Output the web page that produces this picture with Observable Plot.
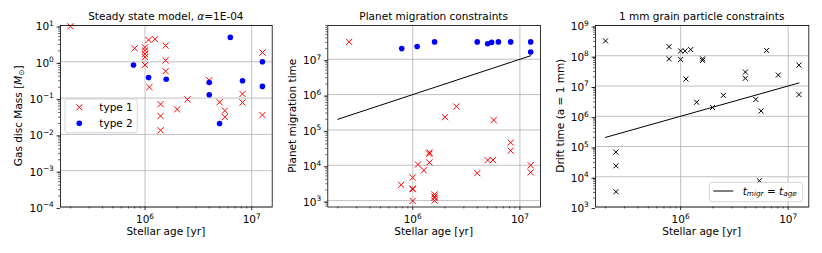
<!DOCTYPE html>
<html><head><meta charset="utf-8">
<script src="https://cdn.jsdelivr.net/npm/d3@7"></script>
<script src="https://cdn.jsdelivr.net/npm/@observablehq/plot@0.6"></script>
<style>
body{margin:0;background:#fff;font-family:"DejaVu Sans",sans-serif;}
#wrap{position:relative;width:822px;height:253px;overflow:hidden;background:#fff}
#wrap > svg{position:absolute;top:0}
</style></head><body><div id="wrap"></div>
<script>
// ---------- Panel 1: Steady state model, gas disc mass [M_sun] ----------
const p1Type1Age  = [2e5, 8e5, 1e6, 1e6, 1e6, 1e6, 1e6, 1.08e6, 1.24e6, 1.1e6, 1.56e6, 1.56e6, 1.56e6,
                     1.4e6, 1.4e6, 1.4e6, 2e6, 2.5e6, 4e6, 5e6, 5.6e6, 5.6e6, 8.2e6, 8.2e6, 1.26e7, 1.26e7];
const p1Type1Mass = [9.5, 2.35, 2.5, 2.05, 1.65, 1.35, 0.82, 4.0, 4.2, 0.2, 2.8, 1.1, 0.55,
                     0.068, 0.032, 0.013, 0.049, 0.092, 0.31, 0.077, 0.045, 0.030, 0.13, 0.076, 1.8, 0.034];
const p1Type2Age  = [7.8e5, 1.08e6, 1.58e6, 4e6, 4e6, 5e6, 6.3e6, 8.2e6, 1.26e7, 1.26e7];
const p1Type2Mass = [0.82, 0.37, 0.33, 0.27, 0.124, 0.02, 4.7, 0.30, 1.0, 0.21];

// ---------- Panel 2: Planet migration time ----------
const p2Type1Age  = [2.55e5, 2.0e6, 2.55e6, 5.7e6, 8.2e6, 8.2e6, 1.43e6, 1.43e6, 1.43e6, 1.12e6, 1.27e6,
                     7.8e5, 1e6, 1e6, 1e6, 1e6, 1.6e6, 1.6e6, 1.6e6, 1.6e6, 4e6, 5e6, 5.6e6, 1.26e7, 1.26e7];
const p2Type1Time = [3.1e7, 2.3e5, 4.6e5, 1.9e5, 4.4e4, 2.6e4, 2.3e4, 2.1e4, 1.2e4, 1.05e4, 7.2e3,
                     2.8e3, 4.5e3, 2.2e3, 2.1e3, 980, 1.5e3, 1.3e3, 1.2e3, 1.0e3, 6e3, 1.4e4, 1.4e4, 1.0e4, 6.3e3];
const p2Type2Age  = [7.9e5, 1.1e6, 1.6e6, 4e6, 5e6, 5.45e6, 6.3e6, 8.2e6, 1.26e7, 1.26e7];
const p2Type2Time = [2.0e7, 2.3e7, 3.1e7, 3.1e7, 2.75e7, 3.0e7, 3.1e7, 3.1e7, 3.1e7, 1.6e7];

// ---------- Panel 3: 1 mm grain drift time ----------
const p3Age   = [2e5, 2.5e5, 2.5e5, 2.5e5, 7.8e5, 7.8e5, 1e6, 1.1e6, 1.24e6, 1e6, 1.6e6, 1.6e6, 1.12e6,
                 1.41e6, 1.98e6, 2.5e6, 4e6, 4e6, 6.3e6, 8.1e6, 5e6, 5.6e6, 5.4e6, 1.26e7, 1.26e7];
const p3Drift = [3.1e8, 6.5e4, 2.3e4, 3.2e3, 2.0e8, 7.9e7, 1.45e8, 1.45e8, 1.6e8, 7.5e7, 7.9e7, 7.0e7, 1.7e7,
                 2.9e6, 1.95e6, 4.9e6, 2.9e7, 1.8e7, 1.5e8, 2.3e7, 3.6e6, 1.5e6, 7.4e3, 4.9e7, 5.2e6];

// t_migr = t_age reference line spans the range of stellar ages
const lineAges = d3.extent(p1Type1Age.concat(p1Type2Age));

// tick labels
const xTicks   = [1e6, 1e7];
const p1YTicks = [1e-4, 1e-3, 1e-2, 1e-1, 1e0, 1e1];
const p2YTicks = [1e3, 1e4, 1e5, 1e6, 1e7];
const p3YTicks = [1e3, 1e4, 1e5, 1e6, 1e7, 1e8, 1e9];

const titles = ["Steady state model, α=1E-04", "Planet migration constraints", "1 mm grain particle constraints"];
const xLabel = "Stellar age [yr]";
const yLabels = ["Gas disc Mass [M⊙]", "Planet migration time", "Drift time (a = 1 mm)"];
const legend1 = ["type 1", "type 2"];
const legend3 = "t_migr = t_age";

// ---------- helpers ----------
const expLabel = d => "10^" + String(Math.round(Math.log10(d))).replace("-", "−");
function minorTicks(domain) {
  const out = [];
  const lo = Math.floor(Math.log10(domain[0])), hi = Math.ceil(Math.log10(domain[1]));
  for (let e = lo; e <= hi; e++) for (let m = 2; m <= 9; m++) {
    const v = m * Math.pow(10, e);
    if (v >= domain[0] && v <= domain[1]) out.push(v);
  }
  return out;
}
const xDomain = [Math.pow(10, 5.208), Math.pow(10, 7.192)];
const gridStyle = {stroke: "#b0b0b0", strokeOpacity: 1, strokeWidth: 0.8};

// turn "10^6" tick text into 10 + superscript tspan
function superscriptTicks(svg) {
  svg.querySelectorAll("text").forEach(t => {
    const s = t.textContent;
    if (!s.startsWith("10^")) return;
    t.textContent = "";
    const base = document.createElementNS("http://www.w3.org/2000/svg", "tspan");
    base.textContent = "10";
    const ex = document.createElementNS("http://www.w3.org/2000/svg", "tspan");
    ex.textContent = s.slice(3);
    ex.setAttribute("font-size", "7.4");
    ex.setAttribute("dy", "-4.6");
    t.appendChild(base); t.appendChild(ex);
  });
}

function makePanel({left, width, ml, mr, yDomain, yTicks, marks}) {
  const svg = Plot.plot({
    width, height: 253, marginLeft: ml, marginRight: mr, marginTop: 25, marginBottom: 46.5,
    style: {fontFamily: "DejaVu Sans", fontSize: "10.5px", background: "transparent", color: "black", overflow: "visible"},
    x: {type: "log", domain: xDomain},
    y: {type: "log", domain: yDomain},
    marks: [
      Plot.gridX(xTicks, gridStyle),
      Plot.gridY(yTicks, gridStyle),
      ...marks,
      Plot.frame({stroke: "black", strokeWidth: 0.8}),
      Plot.axisX(xTicks, {tickSize: 3.5, tickPadding: 5.5, tickFormat: expLabel, label: null, strokeWidth: 0.8, fontSize: 10.5}),
      Plot.axisX(minorTicks(xDomain), {tickSize: 2, tickFormat: () => "", label: null, strokeWidth: 0.6}),
      Plot.axisY(yTicks, {tickSize: 3.5, tickPadding: 3.2, tickFormat: expLabel, label: null, strokeWidth: 0.8, fontSize: 10.5, dy: 1.5}),
      Plot.axisY(minorTicks(yDomain), {tickSize: 2, tickFormat: () => "", label: null, strokeWidth: 0.6})
    ]
  });
  superscriptTicks(svg);
  svg.style.left = left + "px";
  document.getElementById("wrap").appendChild(svg);
}
const idx = a => d3.range(a.length);

// Panel 1
makePanel({left: 0, width: 280, ml: 60, mr: 8.3, yDomain: [1e-4, 1e1], yTicks: p1YTicks, marks: [
  Plot.dot(idx(p1Type1Age), {x: i => p1Type1Age[i], y: i => p1Type1Mass[i], symbol: "times", r: 2.9, stroke: "red", strokeWidth: 1}),
  Plot.dot(idx(p1Type2Age), {x: i => p1Type2Age[i], y: i => p1Type2Mass[i], r: 2.8, fill: "blue", stroke: "none"})
]});
// Panel 2
makePanel({left: 275, width: 270, ml: 52.3, mr: 5, yDomain: [Math.pow(10, 2.82), Math.pow(10, 7.955)], yTicks: p2YTicks, marks: [
  Plot.line(lineAges, {x: d => d, y: d => d, stroke: "black", strokeWidth: 1}),
  Plot.dot(idx(p2Type1Age), {x: i => p2Type1Age[i], y: i => p2Type1Time[i], symbol: "times", r: 2.9, stroke: "red", strokeWidth: 1}),
  Plot.dot(idx(p2Type2Age), {x: i => p2Type2Age[i], y: i => p2Type2Time[i], r: 2.8, fill: "blue", stroke: "none"})
]});
// Panel 3
makePanel({left: 545, width: 277, ml: 50, mr: 13.7, yDomain: [1e3, 1e9], yTicks: p3YTicks, marks: [
  Plot.line(lineAges, {x: d => d, y: d => d, stroke: "black", strokeWidth: 1}),
  Plot.dot(idx(p3Age), {x: i => p3Age[i], y: i => p3Drift[i], symbol: "times", r: 2.4, stroke: "black", strokeWidth: 1})
]});

// ---------- overlay: titles, axis labels, legends ----------
const NS = "http://www.w3.org/2000/svg";
const ov = document.createElementNS(NS, "svg");
ov.setAttribute("width", 822); ov.setAttribute("height", 253);
ov.style.left = "0px";
ov.setAttribute("font-family", "DejaVu Sans");
ov.setAttribute("font-size", "10.5");
document.getElementById("wrap").appendChild(ov);
function el(tag, attrs, parent = ov) {
  const e = document.createElementNS(NS, tag);
  for (const k in attrs) e.setAttribute(k, attrs[k]);
  parent.appendChild(e); return e;
}
function txt(x, y, parts, attrs = {}) {
  const t = el("text", Object.assign({x, y}, attrs));
  for (const p of parts) {
    const s = el("tspan", {}, t);
    if (typeof p === "string") s.textContent = p;
    else { s.textContent = p.t; if (p.i) s.setAttribute("font-style", "italic"); if (p.fs) s.setAttribute("font-size", p.fs); if (p.dy) s.setAttribute("dy", p.dy); }
  }
  return t;
}
const centers = [165.85, 433.65, 701.65];
// titles
txt(centers[0], 19.5, ["Steady state model, ", {t: "α", i: 1}, "=1E-04"], {"text-anchor": "middle"});
txt(centers[1], 19.5, [titles[1]], {"text-anchor": "middle"});
txt(centers[2], 19.5, [titles[2]], {"text-anchor": "middle"});
// x labels
for (const c of centers) txt(c, 235, [xLabel], {"text-anchor": "middle"});
// y labels
txt(0, 0, ["Gas disc Mass [", {t: "M", i: 1}, {t: "⊙", fs: 7.5, dy: 2}, {t: "]", dy: -2}], {"text-anchor": "middle", transform: "translate(21.5,115.75) rotate(-90)"});
txt(0, 0, [yLabels[1]], {"text-anchor": "middle", transform: "translate(296,115.75) rotate(-90)"});
txt(0, 0, [yLabels[2]], {"text-anchor": "middle", transform: "translate(563.5,115.75) rotate(-90)"});

// legend panel 1
el("rect", {x: 65, y: 99, width: 72.3, height: 33.7, rx: 2.5, fill: "white", "fill-opacity": 0.8, stroke: "#cccccc", "stroke-width": 0.8});
el("path", {d: "M76.3,104.3L82.3,110.3M76.3,110.3L82.3,104.3", stroke: "red", "stroke-width": 1, fill: "none"});
el("circle", {cx: 79.3, cy: 123.3, r: 2.8, fill: "blue"});
txt(99.3, 111, [legend1[0]]);
txt(99.3, 127, [legend1[1]]);

// legend panel 3
el("rect", {x: 709.3, y: 182.3, width: 93.4, height: 19.4, rx: 2.5, fill: "white", "fill-opacity": 0.8, stroke: "#cccccc", "stroke-width": 0.8});
el("line", {x1: 713.3, x2: 733.3, y1: 191, y2: 191, stroke: "black", "stroke-width": 1});
txt(742.7, 194.5, [{t: "t", i: 1}, {t: "migr", i: 1, fs: 7.3, dy: 1.8}, {t: " = ", dy: -1.8}, {t: "t", i: 1}, {t: "age", i: 1, fs: 7.3, dy: 1.8}]);
</script></body></html>
